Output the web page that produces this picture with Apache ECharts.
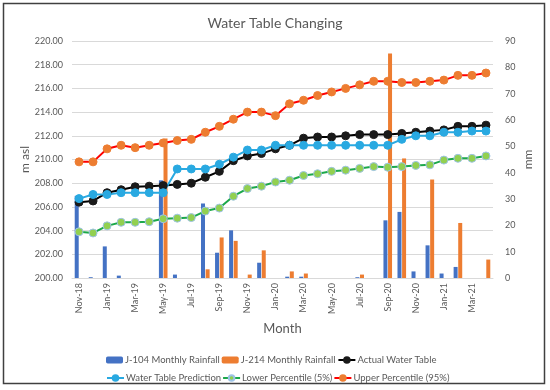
<!DOCTYPE html>
<html><head><meta charset="utf-8">
<script src="https://cdn.jsdelivr.net/npm/echarts@6/dist/echarts.min.js"></script>
<style>html,body{margin:0;padding:0;background:#fff}#c{width:550px;height:390px}</style>
</head><body><div id="c"></div>
<script>
const months = ['Nov-18','Dec-18','Jan-19','Feb-19','Mar-19','Apr-19','May-19','Jun-19','Jul-19','Aug-19','Sep-19','Oct-19','Nov-19','Dec-19','Jan-20','Feb-20','Mar-20','Apr-20','May-20','Jun-20','Jul-20','Aug-20','Sep-20','Oct-20','Nov-20','Dec-20','Jan-21','Feb-21','Mar-21','Apr-21'];
const rainJ104 = [31.2,0.3,12.0,0.9,0,0,37.1,1.3,0,28.3,9.6,18.1,0,5.8,0,0.5,0.5,0,0,0,0.3,0,21.9,25.1,2.5,12.4,1.7,4.2,0,0];
const rainJ214 = [0,0,0,0,0,0,53.0,0,0,3.3,15.4,14.1,1.3,10.5,0,2.5,1.7,0,0,0,1.3,0,85.3,45.4,0,37.4,0,20.9,0,7.0];
const actualWT = [206.4,206.5,207.2,207.45,207.7,207.75,207.8,207.9,208.0,208.5,209.0,209.9,210.3,210.5,210.9,211.2,211.8,211.9,211.9,212.0,212.1,212.1,212.1,212.2,212.3,212.4,212.5,212.8,212.8,212.9];
const predictionWT = [206.7,207.05,207.05,207.2,207.2,207.2,207.2,209.2,209.2,209.2,209.6,210.2,210.8,210.8,211.2,211.2,211.2,211.2,211.2,211.2,211.2,211.2,211.2,211.7,212.0,212.0,212.3,212.3,212.4,212.4];
const lowerP5 = [203.9,203.8,204.4,204.7,204.7,204.75,205.0,205.05,205.1,205.65,205.9,206.9,207.55,207.75,208.1,208.25,208.65,208.8,209.0,209.1,209.25,209.4,209.35,209.4,209.5,209.55,209.95,210.1,210.1,210.3];
const upperP95 = [209.8,209.8,210.9,211.2,211.0,211.2,211.4,211.6,211.7,212.3,212.8,213.4,214.0,214.0,213.7,214.7,215.0,215.4,215.7,216.0,216.3,216.6,216.6,216.5,216.5,216.6,216.7,217.1,217.1,217.3];
const leftTicks = {min:200, max:220, interval:2};
const rightTicks = {min:0, max:90, interval:10};

const FONT = 'Lato';
const TXT = '#595959';
const chart = echarts.init(document.getElementById('c'), null, {renderer:'canvas'});
function lineSeries(name, data, lineColor, fill, border){
  return {name, type:'line', data, yAxisIndex:0, symbol:'circle', symbolSize:8,
    lineStyle:{color:lineColor, width:2}, itemStyle:{color:fill, borderColor:border, borderWidth:1},
    emphasis:{disabled:true}, animation:false};
}
const legendText = {fontFamily:FONT, fontSize:9.5, color:TXT, padding:[0,0,0,-3]};
chart.setOption({
  animation:false,
  textStyle:{fontFamily:FONT},
  title:{text:'Water Table Changing', left:'center', top:11, textStyle:{fontFamily:FONT, fontSize:14, fontWeight:'normal', color:TXT}},
  grid:{left:72, right:57, top:41, bottom:112},
  legend:[
    {left:101, top:350, itemWidth:17, itemHeight:7, itemGap:2, textStyle:legendText,
     data:['J-104 Monthly Rainfall','J-214 Monthly Rainfall','Actual Water Table']},
    {left:101, top:368, itemWidth:17, itemHeight:7, itemGap:1, textStyle:legendText,
     data:['Water Table Prediction','Lower Percentile (5%)','Upper Percentile (95%)']}
  ],
  graphic:[{type:'rect', shape:{x:3.5, y:3.5, width:541, height:380}, style:{fill:null, stroke:'#404040', lineWidth:1.5}, silent:true}],
  xAxis:{type:'category', data:months, boundaryGap:true,
    name:'Month', nameLocation:'middle', nameGap:44, nameMoveOverlap:false, nameTextStyle:{fontFamily:FONT, fontSize:13, color:TXT},
    axisLine:{lineStyle:{color:'#D9D9D9'}}, axisTick:{show:false},
    axisLabel:{interval:1, rotate:90, fontSize:9, color:TXT, fontFamily:FONT, margin:5}},
  yAxis:[
    {type:'value', min:leftTicks.min, max:leftTicks.max, interval:leftTicks.interval,
     name:'m asl', nameLocation:'middle', nameGap:41, nameMoveOverlap:false, nameRotate:90, nameTextStyle:{fontFamily:FONT, fontSize:12, color:TXT},
     axisLabel:{formatter:v=>v.toFixed(2), fontSize:9, color:TXT, fontFamily:FONT, margin:9},
     axisLine:{show:false}, axisTick:{show:false}, splitLine:{lineStyle:{color:'#D9D9D9'}}},
    {type:'value', min:rightTicks.min, max:rightTicks.max, interval:rightTicks.interval,
     name:'mm', nameLocation:'middle', nameGap:29, nameMoveOverlap:false, nameRotate:90, nameTextStyle:{fontFamily:FONT, fontSize:12, color:TXT},
     axisLabel:{fontSize:9, color:TXT, fontFamily:FONT, margin:12},
     axisLine:{show:false}, axisTick:{show:false}, splitLine:{show:false}}
  ],
  series:[
    {name:'J-104 Monthly Rainfall', type:'bar', yAxisIndex:1, data:rainJ104, barWidth:4, barGap:'15%', itemStyle:{color:'#4472C4'}},
    {name:'J-214 Monthly Rainfall', type:'bar', yAxisIndex:1, data:rainJ214, barWidth:4, barGap:'15%', itemStyle:{color:'#ED7D31'}},
    lineSeries('Actual Water Table', actualWT, '#000000', '#1a1a1a', '#1a1a1a'),
    lineSeries('Water Table Prediction', predictionWT, '#29A9E1', '#29A9E1', '#29A9E1'),
    lineSeries('Lower Percentile (5%)', lowerP5, '#1BA84A', '#92D050', '#9DC3E6'),
    lineSeries('Upper Percentile (95%)', upperP95, '#FF0000', '#ED7D31', '#ED7D31')
  ]
});
</script></body></html>
